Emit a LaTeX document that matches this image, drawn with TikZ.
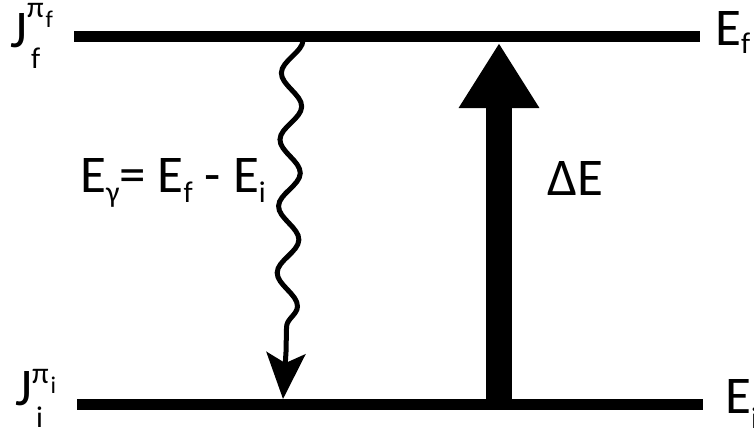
\documentclass[tikz,border=0pt]{standalone}
\usepackage{fontspec}
\setmainfont{Carlito}
\usetikzlibrary{arrows.meta, decorations.pathmorphing}

\newcommand{\lvlfont}{\fontsize{53}{58}\selectfont}
\newcommand{\lowtxt}[2]{\raisebox{#1}{\fontsize{30}{33}\selectfont #2}}
\newcommand{\parlbl}[2]{\raisebox{#1}{\fontsize{30}{33}\selectfont π\kern2pt\raisebox{-10pt}{\fontsize{24}{26}\selectfont #2}}}

\begin{document}
\begin{tikzpicture}[x=1pt, y=-1pt,
  level/.style={line width=11pt},
  lbl/.style={inner sep=0pt, anchor=base west, font=\lvlfont},
  photon/.style={line width=5pt, decorate,
    decoration={snake, segment length=66.6pt, amplitude=10.5pt}},
  ]
  \useasboundingbox (0,0) rectangle (754,432);

  % the two levels
  \coordinate (fL) at (74,36);
  \coordinate (fR) at (700,36);
  \coordinate (iL) at (77,404);
  \coordinate (iR) at (703,404);
  \draw[level] (fL) -- (fR);
  \draw[level] (iL) -- (iR);

  % gamma decay
  \coordinate (gtop) at (293,19);
  \coordinate (gend) at (286,352);
  \coordinate (gtip) at (283,399);
  \begin{scope}
    \clip (0,42) rectangle (754,432);
    \draw[photon] (gtop) -- (gend);
  \end{scope}
  \draw[line width=5pt, -{Stealth[length=46pt, width=39pt, inset=10pt]}] (gend) -- (gtip);

  % excitation
  \coordinate (dEbot) at (499,404);
  \coordinate (dEtop) at (499,43);
  \draw[line width=26pt, -{Triangle[length=65pt, width=76pt]}] (dEbot) -- (dEtop);

  % labels
  \node[lbl] (Jf) at (10,47) {J\rlap{\kern4pt\lowtxt{-21pt}{f}}\parlbl{30pt}{f}};
  \node[lbl] (Ji) at (15,405) {J\rlap{\kern4pt\lowtxt{-22pt}{i}}\parlbl{22pt}{i}};
  \node[lbl] (Ef) at (715,45) {E\lowtxt{-8pt}{f}};
  \node[lbl] (Ei) at (725,413) {E\lowtxt{-15pt}{i}};
  \node[lbl] (Eg) at (80,192) {E\lowtxt{-10pt}{γ}= E\lowtxt{-10pt}{f} - E\lowtxt{-10pt}{i}};
  \node[lbl] (dE) at (547,195) {ΔE};
\end{tikzpicture}
\end{document}
